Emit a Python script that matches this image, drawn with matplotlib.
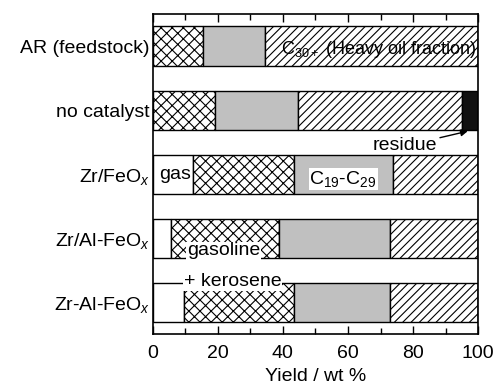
import matplotlib
matplotlib.use("Agg")
import matplotlib.pyplot as plt
import numpy as np

plt.rcParams['font.family'] = ['Liberation Sans', 'DejaVu Sans']
plt.rcParams['mathtext.fontset'] = 'custom'
plt.rcParams['mathtext.rm'] = 'Liberation Sans'
plt.rcParams['mathtext.it'] = 'Liberation Sans:italic'
plt.rcParams['hatch.linewidth'] = 0.8

categories = ['AR (feedstock)', 'no catalyst', r'Zr/FeO$_{x}$', r'Zr/Al-FeO$_{x}$', r'Zr-Al-FeO$_{x}$']
gas = [0.0, 0.0, 12.4, 5.5, 9.5]
gasoline_kerosene = [15.4, 19.0, 31.0, 33.2, 33.9]
c19_c29 = [19.1, 25.6, 30.4, 34.2, 29.6]
c30_plus = [65.5, 50.3, 26.2, 27.1, 27.0]
residue = [0.0, 5.1, 0.0, 0.0, 0.0]

FS = 14
fig = plt.figure(figsize=(4.96, 3.89), dpi=100)
ax = fig.add_axes([0.308, 0.141, 0.656, 0.823])

y = np.arange(len(categories))
h = 0.61
left = np.zeros(len(categories))
series = [
    (gas, dict(facecolor='white', hatch=None)),
    (gasoline_kerosene, dict(facecolor='white', hatch='xxx')),
    (c19_c29, dict(facecolor='#c0c0c0', hatch=None)),
    (c30_plus, dict(facecolor='white', hatch='////')),
    (residue, dict(facecolor='#111111', hatch=None)),
]
for vals, st in series:
    vals = np.array(vals)
    ax.barh(y, vals, height=h, left=left, edgecolor='black', linewidth=1.0, **st)
    left = left + vals

ax.set_xlim(0, 100)
ax.set_ylim(len(categories) - 0.5, -0.5)
ax.set_yticks(y)
ax.set_yticklabels(categories, fontsize=FS)
ax.tick_params(axis='y', length=0, pad=2)
ax.set_xticks(np.arange(0, 101, 20))
ax.set_xticks(np.arange(10, 100, 20), minor=True)
ax.tick_params(axis='x', which='both', direction='in', top=True, bottom=True, labelsize=FS, width=1.0, pad=8)
ax.tick_params(axis='x', which='major', length=6)
ax.tick_params(axis='x', which='minor', length=4)
ax.set_xlabel('Yield / wt %', fontsize=FS, labelpad=4)
for s in ax.spines.values():
    s.set_linewidth(1.2)

ax.text(99.5, 0.05, r'C$_{30+}$ (Heavy oil fraction)', fontsize=13, ha='right', va='center')
ax.text(7.0, 2.0, 'gas', fontsize=FS, ha='center', va='center')
ax.text(58.5, 2.08, r'C$_{19}$-C$_{29}$', fontsize=FS, ha='center', va='center',
        bbox=dict(facecolor='white', edgecolor='none', pad=0.5))
ax.text(21.8, 3.2, 'gasoline', fontsize=FS, ha='center', va='center',
        bbox=dict(facecolor='white', edgecolor='none', pad=0.5))
ax.text(24.6, 3.68, '+ kerosene', fontsize=FS, ha='center', va='center',
        bbox=dict(facecolor='white', edgecolor='none', pad=0.5))
ax.annotate('residue', xy=(96.8, 1.33), xytext=(77.5, 1.56), fontsize=FS, ha='center', va='center',
            arrowprops=dict(arrowstyle='-|>', color='black', lw=1.0, mutation_scale=10, shrinkA=0, shrinkB=0))

fig.savefig('out.png', dpi=100)
